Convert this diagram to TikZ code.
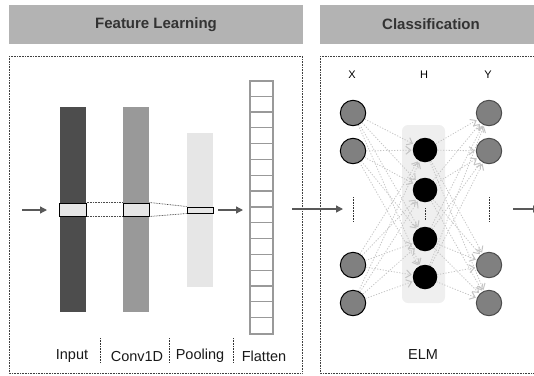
\documentclass[tikz,border=0pt]{standalone}
\usepackage{fontspec}
\setmainfont{Liberation Sans}
\usetikzlibrary{arrows.meta}
\definecolor{hdrfill}{HTML}{B3B3B3}
\definecolor{hdrtext}{HTML}{333333}
\definecolor{barA}{HTML}{4D4D4D}
\definecolor{barB}{HTML}{999999}
\definecolor{barC}{HTML}{E6E6E6}
\definecolor{arrowgray}{HTML}{595959}
\definecolor{conngray}{HTML}{C4C4C4}
\definecolor{neuron}{HTML}{808080}
\definecolor{hidbg}{HTML}{EFEFEF}
\begin{document}
\begin{tikzpicture}[x=1pt,y=-1pt,
  hdrbox/.style={fill=hdrfill, inner sep=0pt, text=hdrtext,
    font=\fontsize{15}{18}\selectfont\bfseries},
  panel/.style={draw=black!75, line width=0.8pt, dash pattern=on 0.8pt off 0.8pt},
  bar/.style={inner sep=0pt, minimum width=26pt},
  column/.style={draw=barB, line width=1.2pt, inner sep=0pt,
    minimum width=23pt, minimum height=253pt},
  divider/.style={draw=barB, line width=1.2pt},
  window/.style={draw=black, line width=1pt, fill=barC, inner sep=0pt},
  link/.style={draw=black!70, line width=0.7pt, dash pattern=on 0.8pt off 0.8pt},
  flow/.style={draw=arrowgray, line width=1.3pt, -{Triangle[length=7pt,width=7pt]}},
  lbl/.style={font=\fontsize{14.5}{17}\selectfont, text=black!90, inner sep=0pt},
  sep/.style={draw=black!80, line width=0.8pt, dash pattern=on 0.8pt off 0.8pt},
  axis/.style={font=\fontsize{11}{13}\selectfont, inner sep=0pt},
  innode/.style={circle, fill=neuron, draw=black, line width=1pt, minimum size=25.4pt, inner sep=0pt},
  outnode/.style={circle, fill=neuron, draw=black!70, line width=1pt, minimum size=25.4pt, inner sep=0pt},
  hidnode/.style={circle, fill=black, minimum size=24.5pt, inner sep=0pt},
  conn/.style={draw=conngray, line width=0.8pt, dash pattern=on 1.2pt off 1.6pt,
    -{Straight Barb[length=5pt,width=8pt,line width=1pt]}, shorten >=1pt}
]
\useasboundingbox (0,0) rectangle (534,375);

% section headers
\node[hdrbox, minimum width=294pt, minimum height=39pt] (hfeat) at (156,24.5) {Feature Learning};
\node[hdrbox, minimum width=222pt, minimum height=39pt] (hclass) at (431,24.5) {Classification};

% dotted panels
\draw[panel] (9,56) rectangle (302,373);
\draw[panel] (320,56) rectangle (545,373);

% feature learning bars
\node[bar, fill=barA, minimum height=205pt] (inbar) at (73,209.5) {};
\node[bar, fill=barB, minimum height=205pt] (convbar) at (136,209.5) {};
\node[bar, fill=barC, minimum height=154pt] (poolbar) at (200,210) {};

% flatten column of 16 cells
\node[column] (flat) at (261.5,207.5) {};
\foreach \i in {1,...,15}
  \draw[divider] ([yshift={-\i*15.8125pt}]flat.north west) -- ([yshift={-\i*15.8125pt}]flat.north east);

% sliding windows
\node[window, minimum width=27pt, minimum height=13pt] (ib) at (72.5,209.5) {};
\node[window, minimum width=26pt, minimum height=13pt] (cb) at (136,209.5) {};
\node[window, minimum width=26pt, minimum height=6pt] (pb) at (200,210) {};
\draw[link] (ib.north east) -- (cb.north west);
\draw[link] (ib.south east) -- (cb.south west);
\draw[link] (cb.north east) -- (pb.north west);
\draw[link] (cb.south east) -- (pb.south west);

% data flow arrows
\coordinate (srcA) at (22,210);
\coordinate (dstA) at (47,210);
\coordinate (srcB) at (218,210);
\coordinate (dstB) at (243,210);
\coordinate (srcC) at (292,209);
\coordinate (dstC) at (343,209);
\coordinate (srcD) at (513,209);
\coordinate (dstD) at (540,209);
\draw[flow] (srcA) -- (dstA);
\draw[flow] (srcB) -- (dstB);
\draw[flow] (srcC) -- (dstC);
\draw[flow] (srcD) -- (dstD);

% stage labels
\node[lbl] (tin) at (72,356) {Input};
\node[lbl] (tconv) at (137,356) {Conv1D};
\node[lbl] (tpool) at (200,356) {Pooling};
\node[lbl] (tflat) at (264,356) {Flatten};
\draw[sep] (100,338) -- (100,363);
\draw[sep] (169,338) -- (169,363);
\draw[sep] (233,338) -- (233,363);

% ELM
\node[axis] (lx) at (352,75) {X};
\node[axis] (lh) at (424,75) {H};
\node[axis] (ly) at (488,75) {Y};
\node[fill=hidbg, rounded corners=6pt, minimum width=43pt, minimum height=178pt, inner sep=0pt] (hbox) at (423.5,214) {};

\node[innode] (x1) at (353,113) {};
\node[innode] (x2) at (353,151) {};
\node[innode] (x3) at (353,265) {};
\node[innode] (x4) at (353,303) {};
\node[hidnode] (h1) at (425,150) {};
\node[hidnode] (h2) at (425,190) {};
\node[hidnode] (h3) at (425,239) {};
\node[hidnode] (h4) at (425,277) {};
\node[outnode] (y1) at (489,113) {};
\node[outnode] (y2) at (489,151) {};
\node[outnode] (y3) at (489,265) {};
\node[outnode] (y4) at (489,303) {};

\foreach \a in {1,...,4}
  \foreach \b in {1,...,4} {
    \draw[conn] (x\a) -- (h\b);
    \draw[conn] (h\a) -- (y\b);
  }

\draw[sep] (353,197) -- (353,222);
\draw[sep] (425,208) -- (425,220);
\draw[sep] (489,197) -- (489,222);

\node[lbl] (telm) at (423,355) {ELM};
\end{tikzpicture}
\end{document}
